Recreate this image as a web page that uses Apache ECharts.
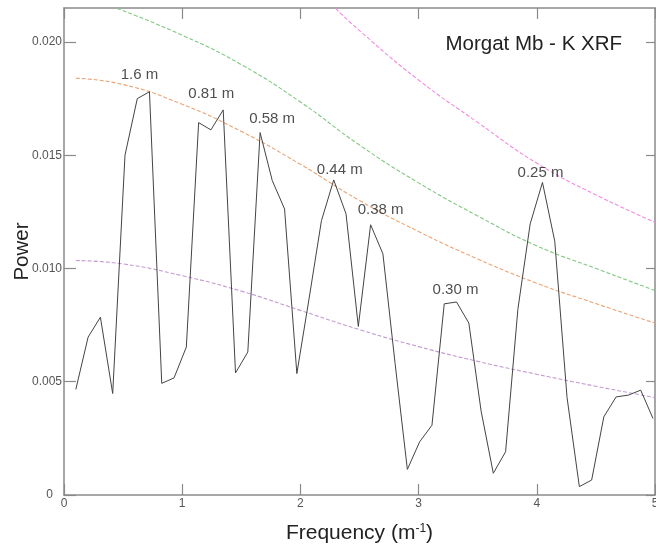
<!DOCTYPE html>
<html>
<head>
<meta charset="utf-8">
<title>Morgat Mb - K XRF</title>
<script src="https://cdn.jsdelivr.net/npm/echarts@6/dist/echarts.min.js"></script>
<style>
  html, body { margin: 0; padding: 0; background: #fff; }
</style>
</head>
<body>
<div id="main" style="width: 656px;height:549px;"></div>
<script type="text/javascript">

    // spectrum (frequency in m^-1, power)
    var freq = [0.100, 0.204, 0.308, 0.412, 0.516, 0.620, 0.723, 0.827, 0.931, 1.035,
                1.139, 1.243, 1.347, 1.451, 1.555, 1.659, 1.762, 1.866, 1.970, 2.074,
                2.178, 2.282, 2.386, 2.490, 2.594, 2.698, 2.801, 2.905, 3.009, 3.113,
                3.217, 3.321, 3.425, 3.529, 3.632, 3.736, 3.840, 3.944, 4.048, 4.152,
                4.256, 4.360, 4.464, 4.567, 4.671, 4.775, 4.879, 4.983];
    var power = [0.00466, 0.00697, 0.00785, 0.00448, 0.0150, 0.0175, 0.0178, 0.00493, 0.00517, 0.00653,
                 0.01644, 0.01612, 0.0170, 0.00539, 0.00631, 0.0160, 0.01388, 0.01263, 0.00536, 0.00869,
                 0.01211, 0.01391, 0.01241, 0.00744, 0.01193, 0.01065, 0.00581, 0.00113, 0.00235, 0.00308,
                 0.00844, 0.00852, 0.00759, 0.0037, 0.00096, 0.00191, 0.0082, 0.01197, 0.0138, 0.0112,
                 0.0043, 0.00037, 0.00066, 0.00345, 0.00433, 0.00441, 0.00463, 0.00338];

    // labelled peaks (index into freq/power)
    var peakIdx = [6, 12, 15, 21, 24, 31, 38];
    var peakText = ['1.6 m', '0.81 m', '0.58 m', '0.44 m', '0.38 m', '0.30 m', '0.25 m'];

    // noise / confidence curves
    var purpleX = [0.1, 0.5, 1.0, 1.5, 2.0, 2.5, 3.0, 3.5, 4.0, 4.5, 5.0];
    var purpleY = [0.01035, 0.0102, 0.00968, 0.0090, 0.00815, 0.0073, 0.00655, 0.0059, 0.00533, 0.0048, 0.0043];
    var orangeX = [0.1, 0.5, 1.0, 1.5, 2.0, 2.5, 3.0, 3.5, 4.0, 4.5, 5.0];
    var orangeY = [0.0184, 0.01812, 0.01725, 0.01605, 0.0146, 0.0130, 0.01163, 0.01042, 0.00935, 0.00845, 0.00759];
    var greenX = [0.45, 1.0, 1.5, 2.0, 2.5, 3.0, 3.5, 4.0, 4.5, 5.0];
    var greenY = [0.02148, 0.0203, 0.0190, 0.01735, 0.01545, 0.01378, 0.01232, 0.0110, 0.0100, 0.00903];
    var pinkX = [2.3, 2.5, 3.0, 3.5, 4.0, 4.5, 5.0];
    var pinkY = [0.02147, 0.0205, 0.01832, 0.01645, 0.01465, 0.01325, 0.01204];

    var xTicks = [0, 1, 2, 3, 4, 5];
    var yTicks = [0, 0.005, 0.010, 0.015, 0.020];

    // label nudges (px) so the text sits like the original
    var peakOffset = [[-10, -4], [-12, -4], [12, -1], [6, 2], [10, -2], [-1, 0], [-2, 3]];

    var pairs = function (xs, ys) {
        var out = [];
        for (var i = 0; i < xs.length; i++) {
            out.push([xs[i], ys[i]]);
        }
        return out;
    };

    var peakData = [];
    for (var i = 0; i < peakIdx.length; i++) {
        peakData.push({
            value: [freq[peakIdx[i]], power[peakIdx[i]]],
            label: { formatter: peakText[i], offset: peakOffset[i] }
        });
    }

    var frameColor = '#8a8a8a';
    var font = 'Liberation Sans, Arial, sans-serif';

    var dashed = function (name, xs, ys, color) {
        return {
            name: name,
            type: 'line',
            data: pairs(xs, ys),
            smooth: 0.5,
            showSymbol: false,
            silent: true,
            lineStyle: { color: color, width: 1.1, type: [4, 2] },
            z: 2
        };
    };

    var frameAxis = function () {
        return {
            show: true,
            onZero: false,
            lineStyle: { color: frameColor, width: 1.5 }
        };
    };

    var myChart = echarts.init(document.getElementById('main'));

    var option = {
        animation: false,
        backgroundColor: '#fff',
        textStyle: { fontFamily: font },
        title: {
            text: 'Morgat Mb - K XRF',
            right: 29,
            top: 29,
            textStyle: { fontSize: 20.5, fontWeight: 'normal', color: '#222', fontFamily: font }
        },
        grid: { left: 64, right: 1, top: 8, bottom: 54, outerBoundsMode: 'none', containLabel: false },
        xAxis: [{
            type: 'value',
            min: 0, max: 5, interval: 1,
            position: 'bottom',
            name: 'Frequency (m{sup|-1})',
            nameLocation: 'middle',
            nameGap: 28,
            nameMoveOverlap: false,
            nameTextStyle: {
                fontSize: 21, color: '#222', fontFamily: font,
                rich: { sup: { fontSize: 12, verticalAlign: 'top', color: '#222', fontFamily: font } }
            },
            axisLine: frameAxis(),
            axisTick: { inside: true, length: 11, lineStyle: { color: frameColor, width: 1.2 }, customValues: xTicks },
            axisLabel: { margin: 3, fontSize: 12, color: '#555', customValues: xTicks },
            splitLine: { show: false }
        }, {
            type: 'value',
            min: 0, max: 5, interval: 1,
            position: 'top',
            axisLine: frameAxis(),
            axisTick: { inside: true, length: 11, lineStyle: { color: frameColor, width: 1.2 }, customValues: xTicks },
            axisLabel: { show: false },
            splitLine: { show: false }
        }],
        yAxis: [{
            type: 'value',
            min: 0, max: 0.0215, interval: 0.005,
            position: 'left',
            name: 'Power',
            nameLocation: 'middle',
            nameGap: 31,
            nameMoveOverlap: false,
            nameTextStyle: { fontSize: 20.5, color: '#222', fontFamily: font },
            axisLine: frameAxis(),
            axisTick: { inside: true, length: 12, lineStyle: { color: frameColor, width: 1.2 }, customValues: yTicks },
            axisLabel: {
                margin: 2, fontSize: 12, color: '#555', customValues: yTicks,
                formatter: function (v) { return v === 0 ? '{z|0}' : v.toFixed(3); },
                rich: { z: { padding: [0, 9, 0, 0], fontSize: 12, color: '#555' } }
            },
            splitLine: { show: false }
        }, {
            type: 'value',
            min: 0, max: 0.0215, interval: 0.005,
            position: 'right',
            axisLine: frameAxis(),
            axisTick: { inside: true, length: 9, lineStyle: { color: frameColor, width: 1.2 }, customValues: yTicks },
            axisLabel: { show: false },
            splitLine: { show: false }
        }],
        series: [
            dashed('mean', purpleX, purpleY, '#c49ad2'),
            dashed('90%', orangeX, orangeY, '#eba373'),
            dashed('95%', greenX, greenY, '#80c880'),
            dashed('99%', pinkX, pinkY, '#f28ae0'),
            {
                name: 'K XRF',
                type: 'line',
                data: pairs(freq, power),
                showSymbol: false,
                silent: true,
                lineStyle: { color: '#444', width: 1 },
                z: 3
            },
            {
                name: 'peaks',
                type: 'scatter',
                data: peakData,
                symbolSize: 0,
                silent: true,
                label: {
                    show: true,
                    position: 'top',
                    distance: 5,
                    fontSize: 15,
                    color: '#222',
                    fontFamily: font
                },
                z: 4
            }
        ]
    };

    myChart.setOption(option);
</script>
</body>
</html>
